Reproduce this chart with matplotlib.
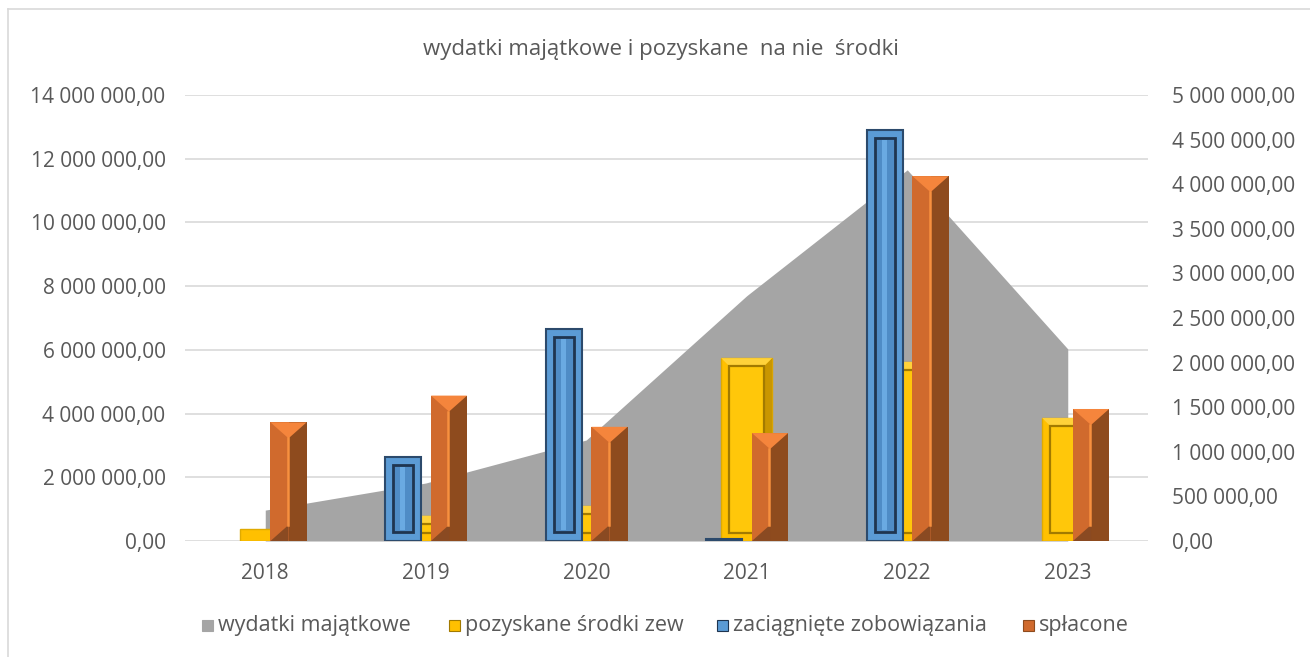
import numpy as np
import matplotlib.pyplot as plt
from matplotlib.patches import Rectangle, Polygon
from matplotlib.lines import Line2D

plt.rcParams['font.family'] = ['Open Sans', 'DejaVu Sans']

# values
years = ['2018', '2019', '2020', '2021', '2022', '2023']
wydatki = [970000, 1820000, 3170000, 7700000, 11650000, 6030000]      # left axis
pozyskane = [380000, 790000, 1100000, 5740000, 5620000, 3860000]      # left axis
zaciagniete = [0, 940000, 2380000, 20000, 4610000, 0]                 # right axis
splacone = [1330000, 1630000, 1280000, 1210000, 4090000, 1480000]     # right axis

labels = ['wydatki majątkowe', 'pozyskane środki zew',
          'zaciągnięte zobowiązania', 'spłacone']

TXT = '#595959'
W, H = 1310, 657


def pl_fmt(v, pos=None):
    return f"{v:,.2f}".replace(",", " ").replace(".", ",")


fig = plt.figure(figsize=(W / 100, H / 100), dpi=100)
ax = fig.add_axes([185 / W, 116 / H, 963 / W, 446 / H])
ax2 = ax.twinx()

x = np.arange(len(years))
ax.set_xlim(-0.5, len(years) - 0.5)
ax.set_ylim(0, 14e6)
ax2.set_ylim(0, 5e6)

# data units per pixel, for the bevel details
px_x = len(years) / 963
py_l = 14e6 / 446
py_r = 5e6 / 446

# grey area
ax.fill_between(x, wydatki, color='#A5A5A5', lw=0, zorder=1)

# yellow bars (primary axis) with a framed bevel
yb = ax.bar(x, pozyskane, width=0.318, color='#FFC000', edgecolor='#E0AA00',
            lw=1, zorder=2)
for b in yb:
    x0, w, h = b.get_x(), b.get_width(), b.get_height()
    bw, bh = 8 * px_x, 8 * py_l
    if h > 22 * py_l:
        # top and right bevel faces
        ax.add_patch(Polygon([(x0, h), (x0 + w, h), (x0 + w - bw, h - bh),
                              (x0 + bw, h - bh)], closed=True, fc='#FFD23A',
                             lw=0, zorder=2.5))
        ax.add_patch(Polygon([(x0 + w, h), (x0 + w, 0), (x0 + w - bw, bh),
                              (x0 + w - bw, h - bh)], closed=True,
                             fc='#C99600', lw=0, zorder=2.5))
        ax.add_patch(Rectangle((x0 + bw, bh), w - 2 * bw, h - 2 * bh,
                               fc='#FFC70A', ec='#A27A00', lw=1.6, zorder=3))

# blue bars (secondary axis)
bb = ax2.bar(x - 0.14, zaciagniete, width=0.225, color='#5B9BD5',
             edgecolor='#2C4A6C', lw=1.5, zorder=2)
for b in bb:
    x0, w, h = b.get_x(), b.get_width(), b.get_height()
    if h == 0:
        b.set_visible(False)
        continue
    if h > 22 * py_r:
        ax2.add_patch(Rectangle((x0 + 8 * px_x, 9 * py_r), w - 16 * px_x,
                                h - 17 * py_r, fc='#4F8CC6', ec='#1F3550',
                                lw=2, zorder=3))
        ax2.add_patch(Rectangle((x0 + w / 2 - 3 * px_x, 11 * py_r), 5 * px_x,
                                h - 21 * py_r, fc='#6AAAE2', lw=0, zorder=4))

# orange bars (secondary axis) with a pyramid bevel
ob = ax2.bar(x + 0.145, splacone, width=0.225, color='#D06A2D', lw=0, zorder=2)
for b in ob:
    x0, w, h = b.get_x(), b.get_width(), b.get_height()
    xc = x0 + w / 2
    d = 16 * py_r
    ax2.add_patch(Rectangle((xc, 0), w / 2, h, fc='#8E4B1E', lw=0, zorder=3))
    ax2.add_patch(Polygon([(x0, h), (x0 + w, h), (xc, h - d)],
                          closed=True, fc='#F5853C', lw=0, zorder=4))
    ax2.add_patch(Polygon([(x0, 0), (xc, d), (xc, 0)],
                          closed=True, fc='#8A4A22', lw=0, zorder=4))
    ax2.add_line(Line2D([xc - px_x, xc - px_x], [d, h - d], color='#F7903F',
                        lw=1.8, zorder=4))

# axes styling
ax.set_yticks(np.arange(0, 14e6 + 1, 2e6))
ax2.set_yticks(np.arange(0, 5e6 + 1, 5e5))
ax.yaxis.set_major_formatter(pl_fmt)
ax2.yaxis.set_major_formatter(pl_fmt)
ax.set_xticks(x, years)
ax.grid(axis='y', color='#D9D9D9', lw=1.2)
ax.set_axisbelow(True)
for a in (ax, ax2):
    for s in a.spines.values():
        s.set_visible(False)
    a.tick_params(length=0, colors=TXT, labelsize=15)
ax.tick_params(axis='y', pad=14)
ax.tick_params(axis='x', pad=16)
ax2.tick_params(axis='y', pad=17)

# title
fig.text(661 / W, 1 - 50 / H, 'wydatki majątkowe i pozyskane  na nie  środki',
         ha='center', va='center', fontsize=16, color=TXT)

# legend
leg_colors = ['#A5A5A5', '#FFC000', '#5B9BD5', '#D06A2D']
leg_edges = ['#A5A5A5', '#A27A00', '#1F3550', '#8E4B1E']
leg_x = [202, 449, 717, 1023]
for lab, c, ec, lx in zip(labels, leg_colors, leg_edges, leg_x):
    fig.add_artist(Rectangle((lx / W, (H - 631) / H), 11 / W, 11 / H,
                             transform=fig.transFigure, fc=c, ec=ec, lw=0.8))
    fig.text((lx + 16) / W, 1 - 625 / H, lab, ha='left', va='center',
             fontsize=15.5, color=TXT)

# chart border (top and left visible)
fig.add_artist(Line2D([8 / W, 1], [1 - 9 / H, 1 - 9 / H],
                      transform=fig.transFigure, color='#D9D9D9', lw=1.2))
fig.add_artist(Line2D([8 / W, 8 / W], [0, 1 - 9 / H],
                      transform=fig.transFigure, color='#D9D9D9', lw=1.2))

fig.savefig('out.png', dpi=100)
